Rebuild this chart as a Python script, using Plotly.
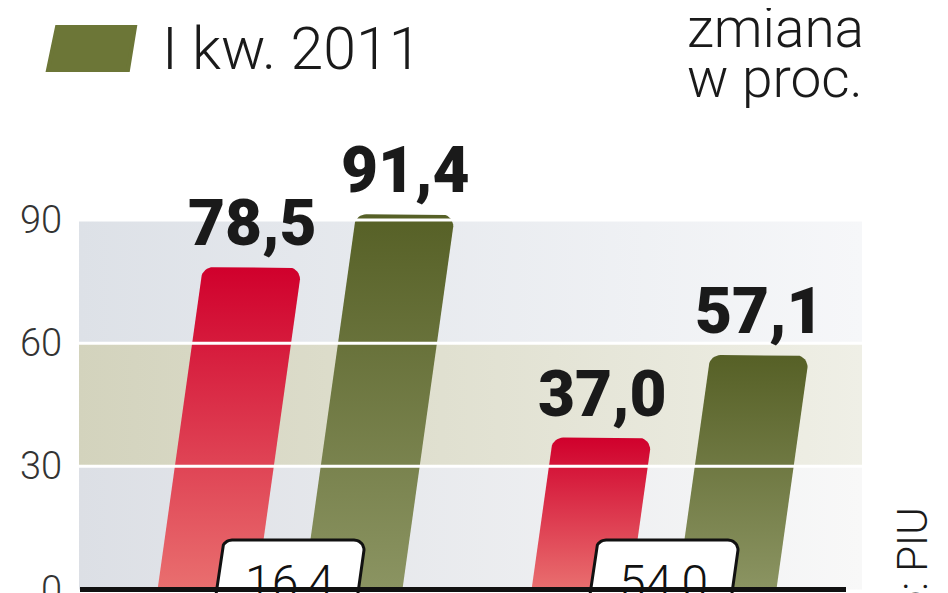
import math
import plotly.graph_objects as go

# ==========================================
# DATA
# ==========================================

groups = [0, 1]                 # category labels are cut off in the picture
prev_values = [78.5, 37.0]      # red bars (previous year, legend cut off)
q1_2011_values = [91.4, 57.1]   # green bars, "I kw. 2011"
change_pct = [16.4, 54.0]       # zmiana w proc.
y_ticks = [0, 30, 60, 90]

legend_label = "I kw. 2011"
source_text = "Źródło: PIU"

# ==========================================
# GEOMETRY HELPERS (screen pixels -> data / paper)
# the page body adds an 8px offset
# ==========================================

OFF = 8
W, H = 948, 593
ML = 71
PX = 374.0
PY = 4.106
X0 = -(272 - ML) / PX
X1 = X0 + (W - ML) / PX
Y0 = -(H - 581.5) / PY
Y1 = 581.5 / PY


def fx(s):
    return X0 + (s - OFF - ML) / PX


def fy(s):
    return Y0 + (H - (s - OFF)) / PY


def paper_x(s):
    return (s - OFF - ML) / (W - ML)


def paper_y(s):
    return 1 - (s - OFF) / H


SKEW = 0.14 * PY / PX       # slant of the bars
BAR_W = 99 / PX
OFFSET = 0.195
BOX_SHIFT = 0.02


def rounded_bar(xc, bottom, top, w, r=12):
    rx, ry = r / PX, r / PY
    left = lambda y: xc - w / 2 + SKEW * y
    right = lambda y: xc + w / 2 + SKEW * y
    xs, ys = [left(bottom)], [bottom]
    cx, cy = left(top - ry) + rx, top - ry
    for t in range(180, 89, -10):
        a = math.radians(t)
        xs.append(cx + rx * math.cos(a))
        ys.append(cy + ry * math.sin(a))
    cx = right(top - ry) - rx
    for t in range(90, -1, -10):
        a = math.radians(t)
        xs.append(cx + rx * math.cos(a))
        ys.append(cy + ry * math.sin(a))
    xs.append(right(bottom))
    ys.append(bottom)
    xs.append(xs[0])
    ys.append(ys[0])
    return xs, ys


def fmt(v):
    return f"{v:.1f}".replace(".", ",")


fig = go.Figure()

# ==========================================
# BACKGROUND BANDS
# ==========================================

band_colors = [
    ["#dcdfe5", "#f8f8f8"],
    ["#d3d3bd", "#efefe6"],
    ["#dde1e7", "#f6f7f9"],
]
band_left, band_right = fx(78), fx(862)
for lo, hi, cols in zip(y_ticks[:-1], y_ticks[1:], band_colors):
    fig.add_trace(
        go.Scatter(
            x=[band_left, band_right, band_right, band_left, band_left],
            y=[lo, lo, hi, hi, lo],
            mode="lines",
            line=dict(width=0),
            fill="toself",
            fillgradient=dict(
                type="horizontal",
                colorscale=[[0, cols[0]], [1, cols[1]]],
            ),
            hoverinfo="skip",
            showlegend=False,
        )
    )

# ==========================================
# BARS
# ==========================================

series = [
    (prev_values, -OFFSET, "#e96f6f", "#d0002c", "I kw. 2010"),
    (q1_2011_values, OFFSET, "#8b9462", "#566026", legend_label),
]
for values, off, c_bottom, c_top, name in series:
    for g, v in zip(groups, values):
        xs, ys = rounded_bar(g + off, 0, v, BAR_W)
        fig.add_trace(
            go.Scatter(
                x=xs,
                y=ys,
                mode="lines",
                line=dict(width=0),
                fill="toself",
                fillgradient=dict(
                    type="vertical",
                    colorscale=[[0, c_bottom], [1, c_top]],
                ),
                name=name,
                hoverinfo="skip",
                showlegend=False,
            )
        )
        fig.add_annotation(
            x=g + off + SKEW * v,
            y=v,
            yanchor="bottom",
            yshift=4,
            text=fmt(v),
            showarrow=False,
            font=dict(family="Roboto", size=64, weight=900, color="#1a1a1a"),
        )

# ==========================================
# CHANGE BOXES
# ==========================================

box_w = 142 / PX
for g, c in zip(groups, change_pct):
    xs, ys = rounded_bar(g + BOX_SHIFT, -8, fy(540), box_w, r=10)
    fig.add_trace(
        go.Scatter(
            x=xs,
            y=ys,
            mode="lines",
            line=dict(width=3, color="#111111"),
            fill="toself",
            fillcolor="white",
            hoverinfo="skip",
            showlegend=False,
        )
    )
    fig.add_annotation(
        x=g + BOX_SHIFT + SKEW * 4,
        y=fy(582),
        yanchor="middle",
        text=fmt(c),
        showarrow=False,
        font=dict(family="Roboto", size=48, weight=300, color="#111111"),
    )

# ==========================================
# GRID LINES, BASELINE, TICK LABELS
# ==========================================

for t in y_ticks[1:]:
    fig.add_shape(
        type="line",
        x0=band_left, x1=band_right, y0=t, y1=t,
        line=dict(color="white", width=3),
        layer="above",
    )
fig.add_shape(
    type="line",
    x0=fx(80), x1=fx(846), y0=0, y1=0,
    line=dict(color="#111111", width=5),
    layer="above",
)

# tick labels as annotations so the "0" may run off the bottom edge
for t in y_ticks:
    fig.add_annotation(
        x=paper_x(64), xref="paper", xanchor="right",
        y=t, yref="y", yanchor="middle",
        text=str(t), showarrow=False,
        font=dict(family="Roboto", size=38, weight=300, color="#333333"),
    )

# ==========================================
# LEGEND, HEADER, SOURCE
# ==========================================

sw = [(57, 27), (135, 27), (128, 70), (48, 70)]
path = "M " + " L ".join(f"{paper_x(a)},{paper_y(b)}" for a, b in sw) + " Z"
fig.add_shape(
    type="path",
    path=path,
    xref="paper",
    yref="paper",
    fillcolor="#6c7637",
    line=dict(color="#6c7637", width=4),
)
fig.add_annotation(
    x=paper_x(160), y=paper_y(48), xref="paper", yref="paper",
    xanchor="left", yanchor="middle",
    text=legend_label, showarrow=False,
    font=dict(family="Roboto", size=59, weight=300, color="#1a1a1a"),
)
fig.add_annotation(
    x=paper_x(686), y=paper_y(28), xref="paper", yref="paper",
    xanchor="left", yanchor="middle", borderpad=0,
    text="zmiana", showarrow=False,
    font=dict(family="Roboto", size=55, weight=300, color="#1a1a1a"),
)
fig.add_annotation(
    x=paper_x(686), y=paper_y(78), xref="paper", yref="paper",
    xanchor="left", yanchor="middle", borderpad=0,
    text="w proc.", showarrow=False,
    font=dict(family="Roboto", size=55, weight=300, color="#1a1a1a"),
)
fig.add_annotation(
    x=paper_x(912), y=paper_y(505), xref="paper", yref="paper",
    xanchor="center", yanchor="top",
    text=source_text, textangle=-90, showarrow=False,
    font=dict(family="Roboto", size=42, weight=300, color="#1a1a1a"),
)

# ==========================================
# LAYOUT
# ==========================================

fig.update_layout(
    width=W,
    height=H,
    margin=dict(l=ML, r=0, t=0, b=0),
    paper_bgcolor="white",
    plot_bgcolor="white",
    showlegend=False,
    xaxis=dict(range=[X0, X1], visible=False),
    yaxis=dict(
        range=[Y0, Y1],
        tickvals=y_ticks,
        showticklabels=False,
        showgrid=False,
        zeroline=False,
        ticks="",
    ),
)

fig.write_html("out.html")
